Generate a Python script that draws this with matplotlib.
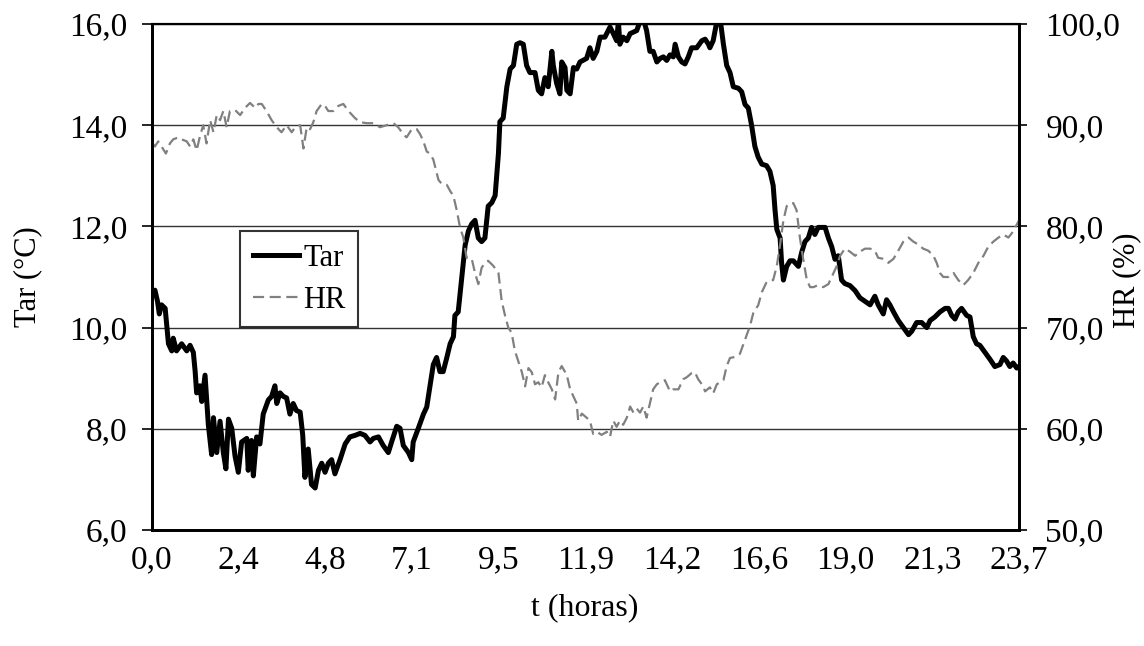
import numpy as np
import matplotlib
matplotlib.use("Agg")
import matplotlib.pyplot as plt
from matplotlib.ticker import FuncFormatter

plt.rcParams['font.family'] = ['Liberation Serif', 'DejaVu Serif']

# Temperatura do ar (t em horas, Tar em ºC)
t_tar = [0.02, 0.08, 0.15, 0.20, 0.26, 0.36, 0.45, 0.54, 0.58, 0.67, 0.81, 0.95, 1.04, 1.13,
         1.18, 1.22, 1.31, 1.36, 1.45, 1.54, 1.63, 1.68, 1.77, 1.86, 1.95, 2.02, 2.09, 2.18,
         2.27, 2.36, 2.45, 2.59, 2.63, 2.72, 2.77, 2.86, 2.95, 3.04, 3.18, 3.27, 3.36, 3.41,
         3.50, 3.59, 3.68, 3.77, 3.86, 3.95, 4.05, 4.12, 4.18, 4.27, 4.36, 4.46, 4.55, 4.64,
         4.73, 4.82, 4.91, 5.00, 5.14, 5.28, 5.41, 5.55, 5.69, 5.82, 5.96, 6.05, 6.19, 6.32,
         6.46, 6.55, 6.69, 6.78, 6.87, 7.01, 7.10, 7.14, 7.28, 7.42, 7.51, 7.69, 7.78, 7.87,
         7.96, 8.06, 8.15, 8.24, 8.28, 8.37, 8.46, 8.56, 8.65, 8.74, 8.83, 8.92, 9.01, 9.10,
         9.19, 9.29, 9.38, 9.47, 9.51, 9.60, 9.70, 9.79, 9.88, 9.97, 10.06, 10.15, 10.24,
         10.33, 10.47, 10.56, 10.65, 10.74, 10.83, 10.93, 10.97, 11.06, 11.15, 11.20, 11.29,
         11.34, 11.43, 11.52, 11.61, 11.70, 11.88, 11.97, 12.06, 12.16, 12.25, 12.38, 12.52,
         12.61, 12.70, 12.75, 12.79, 12.88, 12.98, 13.07, 13.16, 13.25, 13.34, 13.43, 13.52,
         13.61, 13.70, 13.80, 13.89, 13.98, 14.07, 14.16, 14.25, 14.30, 14.39, 14.48, 14.57,
         14.66, 14.75, 14.89, 15.03, 15.12, 15.21, 15.25, 15.34, 15.44, 15.53, 15.62, 15.71,
         15.80, 15.89, 16.03, 16.12, 16.21, 16.30, 16.39, 16.48, 16.57, 16.67, 16.80, 16.89,
         16.98, 17.03, 17.08, 17.17, 17.21, 17.26, 17.35, 17.44, 17.53, 17.67, 17.76, 17.85,
         17.94, 18.03, 18.12, 18.21, 18.31, 18.40, 18.49, 18.58, 18.67, 18.76, 18.85, 18.94,
         19.08, 19.22, 19.35, 19.49, 19.63, 19.76, 19.85, 19.99, 20.08, 20.17, 20.27, 20.40,
         20.54, 20.68, 20.77, 20.90, 21.04, 21.18, 21.27, 21.40, 21.54, 21.68, 21.77, 21.86,
         21.95, 22.04, 22.13, 22.27, 22.36, 22.45, 22.54, 22.63, 22.77, 22.91, 23.04, 23.18,
         23.27, 23.36, 23.45, 23.54, 23.64, 23.70]
tar = [10.66, 10.74, 10.52, 10.27, 10.45, 10.38, 9.68, 9.54, 9.79, 9.54, 9.68, 9.54, 9.65, 9.51,
       9.13, 8.71, 8.85, 8.54, 9.06, 8.08, 7.49, 8.22, 7.53, 8.15, 7.53, 7.21, 8.19, 8.01,
       7.46, 7.14, 7.74, 7.81, 7.18, 7.77, 7.07, 7.84, 7.70, 8.29, 8.57, 8.64, 8.85, 8.50,
       8.71, 8.64, 8.61, 8.29, 8.50, 8.36, 8.33, 7.88, 7.04, 7.60, 6.90, 6.83, 7.18, 7.32,
       7.14, 7.32, 7.39, 7.11, 7.39, 7.70, 7.84, 7.87, 7.91, 7.87, 7.74, 7.81, 7.84, 7.67,
       7.53, 7.74, 8.05, 8.01, 7.67, 7.53, 7.39, 7.74, 8.01, 8.29, 8.43, 9.27, 9.41, 9.13,
       9.13, 9.41, 9.68, 9.82, 10.24, 10.31, 10.94, 11.63, 11.91, 12.05, 12.12, 11.77, 11.70, 11.77,
       12.40, 12.47, 12.61, 13.44, 14.07, 14.14, 14.76, 15.11, 15.18, 15.60, 15.63, 15.60, 15.18,
       15.04, 15.04, 14.69, 14.62, 14.94, 14.76, 15.46, 15.18, 14.83, 14.62, 15.25, 15.14,
       14.69, 14.62, 15.14, 15.11, 15.25, 15.32, 15.53, 15.32, 15.46, 15.74, 15.74, 15.94,
       15.81, 15.67, 16.05, 15.60, 15.74, 15.67, 15.81, 15.84, 15.87, 16.05, 16.10, 15.87,
       15.46, 15.46, 15.25, 15.32, 15.35, 15.28, 15.39, 15.35, 15.60, 15.35, 15.25, 15.21,
       15.35, 15.53, 15.53, 15.67, 15.70, 15.60, 15.53, 15.67, 16.05, 16.10, 15.60, 15.18,
       15.04, 14.76, 14.73, 14.66, 14.41, 14.34, 14.00, 13.58, 13.37, 13.23, 13.20, 13.09,
       12.81, 12.33, 11.94, 11.77, 11.28, 10.94, 11.21, 11.32, 11.32, 11.21, 11.49, 11.70,
       11.77, 11.98, 11.84, 11.98, 11.98, 11.98, 11.77, 11.60, 11.35, 11.42, 10.94, 10.87,
       10.83, 10.73, 10.59, 10.52, 10.45, 10.62, 10.45, 10.27, 10.55, 10.45, 10.31, 10.14,
       10.00, 9.86, 9.93, 10.10, 10.10, 10.00, 10.14, 10.21, 10.31, 10.38, 10.38, 10.24,
       10.17, 10.31, 10.38, 10.24, 10.21, 9.82, 9.68, 9.65, 9.51, 9.37, 9.23, 9.27,
       9.41, 9.34, 9.23, 9.30, 9.20, 9.23]

# Humidade relativa (t em horas, HR em %)
t_hr = [0.02, 0.08, 0.17, 0.26, 0.38, 0.49, 0.58, 0.72, 0.81, 0.95, 1.04, 1.13, 1.22, 1.31,
        1.40, 1.49, 1.59, 1.68, 1.77, 1.86, 1.95, 2.04, 2.13, 2.27, 2.41, 2.54, 2.68, 2.82,
        2.91, 3.00, 3.13, 3.27, 3.41, 3.54, 3.68, 3.82, 3.91, 4.05, 4.14, 4.23, 4.32, 4.41,
        4.50, 4.64, 4.73, 4.82, 4.96, 5.09, 5.23, 5.37, 5.55, 5.69, 5.87, 6.05, 6.23, 6.41,
        6.60, 6.73, 6.87, 6.96, 7.10, 7.24, 7.33, 7.42, 7.51, 7.60, 7.69, 7.83, 7.92, 8.06,
        8.15, 8.24, 8.33, 8.42, 8.51, 8.60, 8.74, 8.83, 8.92, 9.01, 9.10, 9.19, 9.33, 9.47,
        9.56, 9.65, 9.74, 9.83, 9.92, 10.01, 10.11, 10.20, 10.29, 10.38, 10.47, 10.56, 10.65,
        10.74, 10.83, 10.93, 11.02, 11.11, 11.20, 11.34, 11.43, 11.52, 11.61, 11.65, 11.75,
        11.88, 11.97, 12.06, 12.16, 12.29, 12.43, 12.52, 12.61, 12.70, 12.79, 12.88, 12.98,
        13.07, 13.16, 13.25, 13.34, 13.43, 13.52, 13.61, 13.70, 13.80, 13.89, 14.02, 14.16,
        14.25, 14.39, 14.52, 14.62, 14.75, 14.84, 14.93, 15.03, 15.12, 15.25, 15.34, 15.44,
        15.53, 15.62, 15.71, 15.80, 15.94, 16.07, 16.21, 16.35, 16.44, 16.57, 16.67, 16.80,
        16.98, 17.08, 17.17, 17.26, 17.35, 17.44, 17.53, 17.62, 17.71, 17.80, 17.90, 17.99,
        18.08, 18.21, 18.35, 18.49, 18.63, 18.72, 18.81, 18.94, 19.08, 19.22, 19.35, 19.49,
        19.63, 19.76, 19.85, 19.99, 20.13, 20.27, 20.40, 20.54, 20.68, 20.81, 20.95, 21.08,
        21.22, 21.36, 21.45, 21.54, 21.63, 21.77, 21.91, 22.04, 22.18, 22.31, 22.45, 22.59,
        22.73, 22.86, 23.00, 23.14, 23.27, 23.41, 23.54, 23.70]
hr = [88.2, 87.9, 88.4, 87.9, 87.2, 88.2, 88.6, 88.8, 88.6, 88.4, 87.9, 88.6, 87.5, 88.9,
      90.0, 88.2, 90.5, 89.3, 91.0, 90.5, 91.4, 89.8, 91.4, 91.5, 91.0, 91.7, 92.2, 91.7,
      92.1, 92.1, 91.4, 90.5, 89.8, 89.3, 90.0, 89.3, 89.8, 90.0, 87.7, 89.8, 89.6, 90.3,
      91.4, 92.1, 91.9, 91.4, 91.4, 91.9, 92.1, 91.4, 90.7, 90.3, 90.2, 90.2, 89.8, 90.0,
      90.2, 89.8, 89.1, 88.8, 89.6, 89.6, 89.1, 88.4, 87.4, 87.2, 86.6, 84.6, 84.2, 84.1,
      83.5, 83.0, 81.6, 79.9, 78.9, 76.9, 76.8, 75.4, 74.3, 75.9, 76.4, 76.6, 76.1, 75.4,
      72.6, 71.2, 70.0, 69.5, 67.7, 66.7, 65.6, 64.2, 66.0, 65.6, 64.4, 64.6, 64.1,
      65.3, 64.6, 63.9, 62.9, 65.6, 66.2, 65.3, 63.9, 63.2, 62.5, 60.8, 61.5,
      61.1, 60.8, 59.5, 59.7, 59.4, 59.7, 59.2, 60.8, 60.2, 60.8, 60.4, 61.1,
      62.2, 61.6, 62.0, 61.6, 62.2, 61.1, 62.5, 63.9, 64.4, 64.6, 64.8, 63.7,
      63.9, 63.9, 64.9, 65.1, 65.5, 65.6, 64.9, 64.4, 63.7, 64.1, 63.5, 64.4,
      64.6, 64.8, 66.2, 67.0, 67.1, 67.4, 68.8, 70.2, 71.5, 72.2, 73.5, 74.5,
      74.7, 76.1, 78.2, 80.6, 82.0, 82.3, 82.3, 81.6, 78.9, 76.8, 74.7, 74.0,
      74.0, 74.2, 74.0, 74.3, 75.4, 76.1, 77.1, 77.8, 77.5, 77.1, 77.5, 77.8,
      77.8, 77.6, 76.9, 76.8, 76.4, 76.8, 77.6, 78.5, 78.9, 78.5, 78.2, 77.8,
      77.6, 77.1, 76.4, 75.4, 75.0, 75.0, 75.4, 74.7, 74.2, 74.7, 75.4, 76.4,
      77.1, 78.0, 78.5, 78.9, 79.2, 78.9, 79.5, 80.6]

xtick_labels = ['0,0', '2,4', '4,8', '7,1', '9,5', '11,9', '14,2', '16,6', '19,0', '21,3', '23,7']

fig = plt.figure(figsize=(11.44, 6.46), dpi=100)
ax = fig.add_axes([152/1144, 1-530/646, 867/1144, 506/646])
ax2 = ax.twinx()

l1, = ax.plot(t_tar, tar, color='black', lw=3.6, solid_joinstyle='round', label='Tar')
l2, = ax2.plot(t_hr, hr, color='#808080', lw=1.6, dashes=(5, 2.5), label='HR')

ax.set_xlim(0, 23.7)
ax.set_ylim(6, 16)
ax2.set_ylim(50, 100)
ax.set_yticks(np.arange(6, 16.1, 2))
ax2.set_yticks(np.arange(50, 100.1, 10))
ax.set_xticks(np.linspace(0, 23.7, len(xtick_labels)))
ax.set_xticklabels(xtick_labels)

comma = FuncFormatter(lambda v, p: f'{v:.1f}'.replace('.', ','))
ax.yaxis.set_major_formatter(comma)
ax2.yaxis.set_major_formatter(comma)

ax.yaxis.grid(True, color='#333333', lw=1.0)
ax.set_axisbelow(True)

for a in (ax, ax2):
    for s in a.spines.values():
        s.set_linewidth(2.0)
        s.set_color('black')
    a.spines['top'].set_linewidth(1.5)

ax.tick_params(axis='y', direction='out', length=7, width=1.2, labelsize=24, pad=10.5)
ax2.tick_params(axis='y', direction='out', length=6, width=1.2, labelsize=24, pad=13)
ax.tick_params(axis='x', length=0, labelsize=24, pad=11)

# axis titles placed like the original
fig.text(585/1144, 1-608/646, 't (horas)', fontsize=23, ha='center', va='center')
fig.text(28/1144, 1-277/646, 'Tar (°C)', fontsize=22, rotation=90, ha='center', va='center')
fig.text(1127/1144, 1-280/646, 'HR (%)', fontsize=22, rotation=90, ha='center', va='center')

leg = ax2.legend(handles=[l1, l2], loc='upper left', bbox_to_anchor=(0.1015, 0.591),
                 fontsize=22, frameon=True, fancybox=False, shadow=False,
                 handlelength=1.5, handletextpad=0.15, borderpad=0.42, labelspacing=0.42,
                 borderaxespad=0)
leg.get_frame().set_edgecolor('black')
leg.get_frame().set_linewidth(1.5)

fig.savefig('out.png', dpi=100)
